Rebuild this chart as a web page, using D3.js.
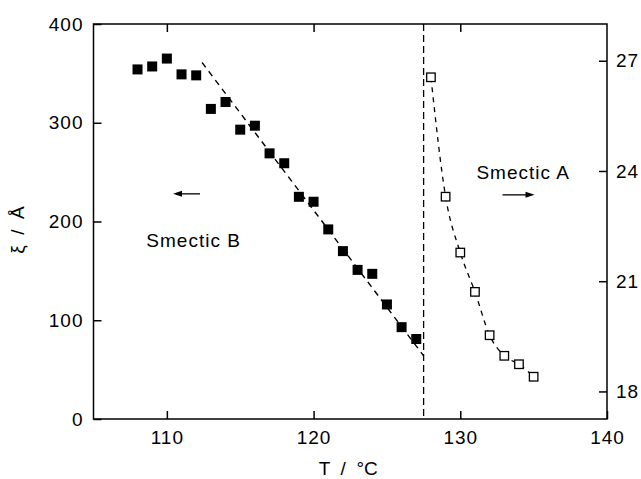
<!DOCTYPE html>
<html>
<head>
<meta charset="utf-8">
<script src="https://cdn.jsdelivr.net/npm/d3@7"></script>
<style>
  body { margin: 0; background: #fff; }
  svg text { font-family: "Liberation Sans", Arial, Helvetica, sans-serif; fill: #000; white-space: pre; }
</style>
</head>
<body>
<svg id="chart" width="641" height="479"></svg>
<script>
// Smectic B correlation length (left axis, Å)
const smecticBTemp = [108, 109, 110, 111, 112, 113, 114, 115, 116, 117, 118, 119, 120, 121, 122, 123, 124, 125, 126, 127];
const smecticBXi   = [354, 357, 365, 349, 348, 314, 321, 293, 297, 269, 259, 225, 220, 192, 170, 151, 147, 116, 93, 81];

// Smectic A values (right axis)
const smecticATemp = [128, 129, 130, 131, 132, 133, 134, 135];
const smecticAVal  = [26.55, 23.30, 21.78, 20.71, 19.53, 18.97, 18.74, 18.40];

// Linear fit through the smectic B data
const fitBTemp = [112.4, 127.5];
const fitBXi   = [361, 64];

// Phase transition temperature
const transitionTemp = 127.5;

// Axis ticks
const xTicks  = [110, 120, 130, 140];
const yTicks  = [0, 100, 200, 300, 400];
const y2Ticks = [18, 21, 24, 27];

const plotLeft = 93.5, plotRight = 607, plotTop = 24, plotBottom = 419;

const svg = d3.select("#chart");

const x  = d3.scaleLinear().domain([105, 140]).range([plotLeft, plotRight]);
const y  = d3.scaleLinear().domain([0, 400]).range([plotBottom, plotTop]);
const y2 = d3.scaleLinear().domain([17.25, 28]).range([plotBottom, plotTop]);

const tickFont = g => g.selectAll("text")
  .style("font-size", "19px")
  .style("letter-spacing", "1px")
  .attr("fill", "#000");
const tickLines = g => g.selectAll("line").attr("stroke", "#000").attr("stroke-width", 1.5);

// bottom axis
svg.append("g")
  .attr("transform", `translate(0,${plotBottom})`)
  .call(d3.axisBottom(x).tickValues(xTicks).tickSize(-8).tickSizeOuter(0).tickPadding(12).tickFormat(d3.format("d")))
  .call(g => g.select(".domain").remove())
  .call(tickFont).call(tickLines);

// top axis (ticks only)
svg.append("g")
  .attr("transform", `translate(0,${plotTop})`)
  .call(d3.axisTop(x).tickValues(xTicks.slice(0, 3)).tickSize(-8).tickSizeOuter(0).tickFormat(""))
  .call(g => g.select(".domain").remove())
  .call(tickLines);

// left axis
svg.append("g")
  .attr("transform", `translate(${plotLeft},0)`)
  .call(d3.axisLeft(y).tickValues(yTicks).tickSize(-8).tickSizeOuter(0).tickPadding(10))
  .call(g => g.select(".domain").remove())
  .call(tickFont).call(tickLines);

// right axis
svg.append("g")
  .attr("transform", `translate(${plotRight},0)`)
  .call(d3.axisRight(y2).tickValues(y2Ticks).tickSize(-8).tickSizeOuter(0).tickPadding(9))
  .call(g => g.select(".domain").remove())
  .call(tickFont).call(tickLines);

// frame
svg.append("rect")
  .attr("x", plotLeft).attr("y", plotTop)
  .attr("width", plotRight - plotLeft).attr("height", plotBottom - plotTop)
  .attr("fill", "none").attr("stroke", "#000").attr("stroke-width", 1.5);

// transition line
svg.append("line")
  .attr("x1", x(transitionTemp)).attr("x2", x(transitionTemp))
  .attr("y1", plotTop).attr("y2", plotBottom)
  .attr("stroke", "#000").attr("stroke-width", 1.3)
  .attr("stroke-dasharray", "7,4");

// smectic B fit
svg.append("path")
  .datum(fitBTemp.map((t, i) => [t, fitBXi[i]]))
  .attr("d", d3.line().x(d => x(d[0])).y(d => y(d[1])))
  .attr("fill", "none").attr("stroke", "#000").attr("stroke-width", 1.4)
  .attr("stroke-dasharray", "6,5");

// smectic A fit curve
svg.append("path")
  .datum(smecticATemp.map((t, i) => [t, smecticAVal[i]]))
  .attr("d", d3.line().curve(d3.curveMonotoneX).x(d => x(d[0])).y(d => y2(d[1])))
  .attr("fill", "none").attr("stroke", "#000").attr("stroke-width", 1.3)
  .attr("stroke-dasharray", "5,5");

// smectic B points
const sb = 10;
svg.append("g").selectAll("rect")
  .data(smecticBTemp.map((t, i) => [t, smecticBXi[i]]))
  .join("rect")
  .attr("x", d => x(d[0]) - sb / 2).attr("y", d => y(d[1]) - sb / 2)
  .attr("width", sb).attr("height", sb)
  .attr("fill", "#000");

// smectic A points
const sa = 8.5;
svg.append("g").selectAll("rect")
  .data(smecticATemp.map((t, i) => [t, smecticAVal[i]]))
  .join("rect")
  .attr("x", d => x(d[0]) - sa / 2).attr("y", d => y2(d[1]) - sa / 2)
  .attr("width", sa).attr("height", sa)
  .attr("fill", "#fff").attr("stroke", "#000").attr("stroke-width", 1.3);

// arrows indicating which axis each phase uses
function arrow(x1, x2, yy) {
  const dir = Math.sign(x2 - x1);
  svg.append("line")
    .attr("x1", x1).attr("x2", x2 - dir * 6).attr("y1", yy).attr("y2", yy)
    .attr("stroke", "#000").attr("stroke-width", 1.3);
  svg.append("path")
    .attr("d", `M${x2},${yy} L${x2 - dir * 9},${yy - 3} L${x2 - dir * 9},${yy + 3} Z`)
    .attr("fill", "#000");
}
arrow(x(112.26), x(110.42), y(228));
arrow(x(132.88), x(135.06), y2(23.35));

// phase labels
svg.append("text")
  .attr("x", x(108.6)).attr("y", y(174))
  .style("font-size", "19px").style("letter-spacing", "1px")
  .text("Smectic B");
svg.append("text")
  .attr("x", x(131.1)).attr("y", y2(23.78))
  .style("font-size", "19px").style("letter-spacing", "1px")
  .text("Smectic A");

// axis titles
svg.append("text")
  .attr("x", (plotLeft + plotRight) / 2 - 2).attr("y", 475)
  .attr("text-anchor", "middle")
  .style("font-size", "19px")
  .text("T  /  °C");
svg.append("text")
  .attr("transform", `translate(24,230) rotate(-90)`)
  .attr("text-anchor", "middle")
  .style("font-size", "19px")
  .text("ξ  /  Å");
</script>
</body>
</html>
